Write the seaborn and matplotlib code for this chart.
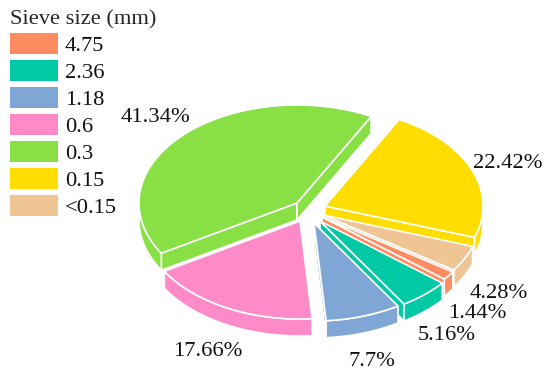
import numpy as np
import matplotlib
matplotlib.use("Agg")
import matplotlib.pyplot as plt
import seaborn as sns
from matplotlib.patches import Patch, Polygon

# Data
sieve_sizes = ['4.75', '2.36', '1.18', '0.6', '0.3', '0.15', '<0.15']
shares = [1.44, 5.16, 7.7, 17.66, 41.34, 22.42, 4.28]
colors = ['#FF8C60', '#00C9A3', '#7FA6D4', '#FF8AC8', '#88E044', '#FFDD00', '#F0C594']

# Layout of the fake 3D pie, in pixels
center = (313, 212)
rx, ry = 158, 98
depth = 17
start_angle = -34.12
explode_x = [9, 7, 1, -13, -16, 12, 10]
explode_y = [5, 9, 11, 9, -9, -6, 3]
label_x = [477, 447, 372, 208, 155, 508, 499]
label_y = [314, 335, 362, 352, 117, 164, 293]
draw_order = [5, 6, 0, 1, 2, 4, 3]

sns.set_theme(style="white")
plt.rcParams['font.family'] = ['Liberation Serif', 'DejaVu Serif']

fig, ax = plt.subplots(figsize=(5.5, 3.78), dpi=100)
ax.set_position([0, 0, 1, 1])
ax.set_xlim(0, 550)
ax.set_ylim(378, 0)
ax.axis('off')

palette = sns.color_palette(colors)


def rim(cx, cy, a0, a1, n=80):
    t = np.radians(np.linspace(a0, a1, n))
    return np.column_stack([cx + rx * np.cos(t), cy - ry * np.sin(t)])


def face(points, color, z):
    ax.add_patch(Polygon(points, closed=True, facecolor=color, edgecolor='white',
                         linewidth=1.2, joinstyle='round', zorder=z))


# Wedges run clockwise, angles in degrees
edges = start_angle - np.cumsum([0] + shares) * 3.6

for z, i in enumerate(draw_order):
    cx = center[0] + explode_x[i]
    cy = center[1] + explode_y[i]
    a0, a1 = edges[i], edges[i + 1]
    c = palette[i]
    base = z * 10
    # cut walls
    for a, sign in [(a0, -1), (a1, 1)]:
        if np.cos(np.radians(a)) * sign > 0:
            p = rim(cx, cy, a, a, 1)[0]
            face([(cx, cy), p, (p[0], p[1] + depth), (cx, cy + depth)], c, base + 1)
    # outer wall, only the part that faces the viewer
    for lo, hi in [(-180, 0), (-540, -360)]:
        t0, t1 = min(a0, hi), max(a1, lo)
        if t0 > t1:
            arc = rim(cx, cy, t0, t1)
            face(np.vstack([arc, arc[::-1] + [0, depth]]), c, base + 2)
    # top surface
    face(np.vstack([[(cx, cy)], rim(cx, cy, a0, a1, 160)]), c, base + 3)

# Percent labels
for v, x, y in zip(shares, label_x, label_y):
    ax.text(x, y, f"{v}%", fontsize=16.2, color='#111111', ha='center', va='center', zorder=200)

handles = [Patch(facecolor=c, edgecolor='none') for c in palette]
ax.legend(handles, sieve_sizes, title="Sieve size (mm)", loc='upper left',
          bbox_to_anchor=(10 / 550, 1 - 10 / 378), borderaxespad=0, borderpad=0,
          frameon=False, alignment='left',
          fontsize=16.2, title_fontsize=16.2, labelcolor='#111111',
          handlelength=2.13, handleheight=1.05, handletextpad=0.3, labelspacing=0.17)

fig.savefig("out.png", dpi=100)
